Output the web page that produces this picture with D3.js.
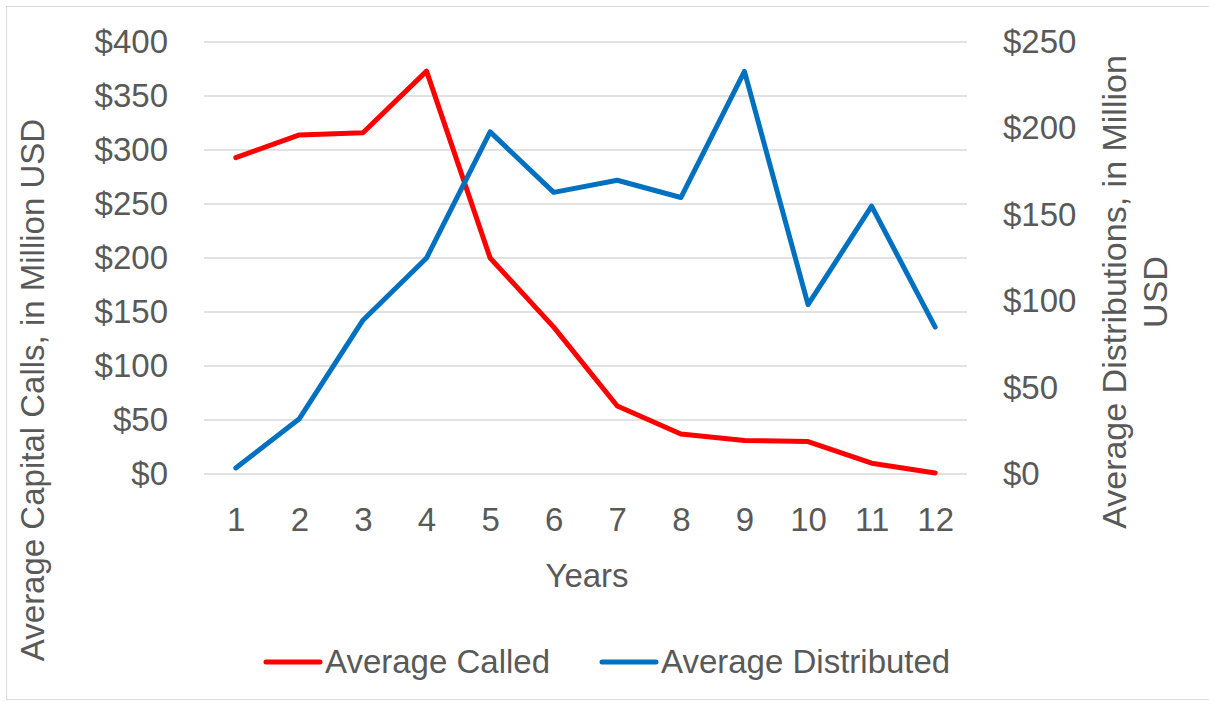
<!DOCTYPE html>
<html>
<head>
<meta charset="utf-8">
<script src="https://cdnjs.cloudflare.com/ajax/libs/d3/7.8.5/d3.min.js"></script>
<style>
  body { margin: 0; background: #fff; }
  svg text { font-family: "Liberation Sans", Arial, sans-serif; fill: #595959; }
</style>
</head>
<body>
<svg id="chart" width="1209" height="702"></svg>
<script>
// chart data
const years = ["1", "2", "3", "4", "5", "6", "7", "8", "9", "10", "11", "12"];
const avgCalled = [293, 314, 316, 373, 200, 136, 63, 37, 31, 30, 10, 1];
const avgDistributed = [3.5, 32, 89, 125, 198, 163, 170, 160, 233, 98, 155, 85];
const leftTicks = [0, 50, 100, 150, 200, 250, 300, 350, 400];
const rightTicks = [0, 50, 100, 150, 200, 250];

const svg = d3.select("#chart");
const plot = { left: 204, right: 967, top: 42, bottom: 474 };

// chart area border
svg.append("rect")
    .attr("x", 6.5).attr("y", 6.5)
    .attr("width", 1210).attr("height", 693)
    .attr("fill", "none").attr("stroke", "#d9d9d9").attr("stroke-width", 1);

const x = d3.scalePoint().domain(years).range([plot.left, plot.right]).padding(0.5);
const yL = d3.scaleLinear().domain([0, 400]).range([plot.bottom, plot.top]);
const yR = d3.scaleLinear().domain([0, 250]).range([plot.bottom, plot.top]);

// gridlines
svg.append("g").selectAll("line").data(leftTicks).join("line")
    .attr("x1", plot.left).attr("x2", plot.right)
    .attr("y1", d => yL(d)).attr("y2", d => yL(d))
    .attr("stroke", "#d9d9d9").attr("stroke-width", 1.5);

// left axis
const leftAxis = svg.append("g")
    .attr("transform", `translate(168,0)`)
    .call(d3.axisLeft(yL).tickValues(leftTicks).tickSize(0).tickPadding(0).tickFormat(d => "$" + d));
leftAxis.select(".domain").remove();
leftAxis.selectAll("text").attr("font-size", 33).attr("fill", "#595959")
    .style("font-family", '"Liberation Sans", Arial, sans-serif');

// right axis
const rightAxis = svg.append("g")
    .attr("transform", `translate(1003,0)`)
    .call(d3.axisRight(yR).tickValues(rightTicks).tickSize(0).tickPadding(0).tickFormat(d => "$" + d));
rightAxis.select(".domain").remove();
rightAxis.selectAll("text").attr("font-size", 33).attr("fill", "#595959")
    .style("font-family", '"Liberation Sans", Arial, sans-serif');

// bottom axis
const bottomAxis = svg.append("g")
    .attr("transform", `translate(0,${plot.bottom})`)
    .call(d3.axisBottom(x).tickSize(0).tickPadding(34));
bottomAxis.select(".domain").remove();
bottomAxis.selectAll("text").attr("font-size", 33).attr("fill", "#595959")
    .style("font-family", '"Liberation Sans", Arial, sans-serif');

// axis titles
svg.append("text")
    .attr("x", 587).attr("y", 587)
    .attr("text-anchor", "middle").attr("font-size", 33)
    .text("Years");

svg.append("text")
    .attr("transform", "translate(44,390) rotate(-90)")
    .attr("text-anchor", "middle").attr("font-size", 33)
    .text("Average Capital Calls, in Million USD");

const rTitle = svg.append("text")
    .attr("transform", "translate(1126,292) rotate(-90)")
    .attr("text-anchor", "middle").attr("font-size", 34);
rTitle.append("tspan").attr("x", 0).attr("dy", 0).text("Average Distributions, in Million");
rTitle.append("tspan").attr("x", 0).attr("dy", 41).text("USD");

// lines
const lineL = d3.line().x((d, i) => x(years[i])).y(d => yL(d));
const lineR = d3.line().x((d, i) => x(years[i])).y(d => yR(d));

svg.append("path").datum(avgCalled)
    .attr("d", lineL).attr("fill", "none")
    .attr("stroke", "#ff0000").attr("stroke-width", 5)
    .attr("stroke-linejoin", "round").attr("stroke-linecap", "round");

svg.append("path").datum(avgDistributed)
    .attr("d", lineR).attr("fill", "none")
    .attr("stroke", "#0070c0").attr("stroke-width", 5)
    .attr("stroke-linejoin", "round").attr("stroke-linecap", "round");

// legend
const legendItems = [
    { name: "Average Called", color: "#ff0000", x: 266 },
    { name: "Average Distributed", color: "#0070c0", x: 602 }
];
const legend = svg.append("g").selectAll("g").data(legendItems).join("g")
    .attr("transform", d => `translate(${d.x},662)`);
legend.append("line")
    .attr("x1", 0).attr("x2", 54).attr("y1", 0).attr("y2", 0)
    .attr("stroke", d => d.color).attr("stroke-width", 5).attr("stroke-linecap", "round");
legend.append("text")
    .attr("x", 59).attr("y", 11).attr("font-size", 33)
    .text(d => d.name);
</script>
</body>
</html>
